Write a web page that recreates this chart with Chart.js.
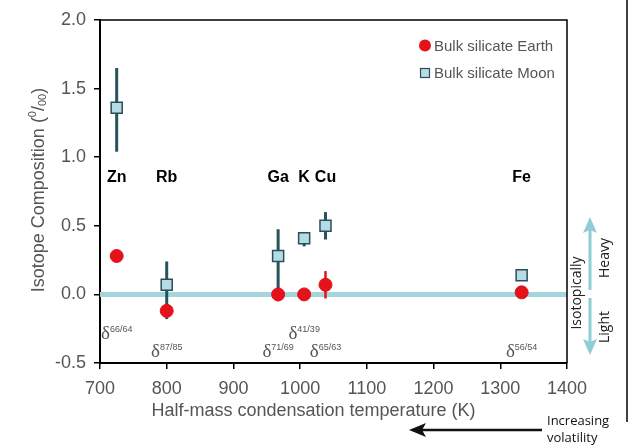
<!DOCTYPE html>
<html><head><meta charset="utf-8">
<script src="https://cdn.jsdelivr.net/npm/chart.js@4"></script>
<style>html,body{margin:0;padding:0;background:#fff}</style>
</head><body>
<canvas id="c" width="630" height="447"></canvas>
<script>
// ---- data ----
const elements = ['Zn', 'Rb', 'Ga', 'K', 'Cu', 'Fe'];
const temperatures = [725, 800, 967, 1006, 1038, 1332];
const earthValues = [0.28, -0.12, 0.00, 0.00, 0.07, 0.015];
const earthErrLow = [null, -0.16, -0.05, null, -0.03, null];
const earthErrHigh = [null, -0.08, 0.05, null, 0.17, null];
const moonValues = [1.36, 0.07, 0.28, 0.41, 0.50, 0.14];
const moonErrLow = [1.04, -0.18, 0.00, 0.35, 0.40, null];
const moonErrHigh = [1.65, 0.24, 0.475, 0.44, 0.60, null];
const isotopeRatios = ['66/64', '87/85', '71/69', '41/39', '65/63', '56/54'];
const isotopeLabelLevels = [-0.28, -0.41, -0.41, -0.28, -0.41, -0.41];
const elementLabelLevel = 0.85;
const xRange = [700, 1400];
const yRange = [-0.5, 2.0];
const seriesNames = ['Bulk silicate Earth', 'Bulk silicate Moon'];

// ---- styles ----
const RED = '#e3121b';
const TEAL = '#24555c';
const MOONFILL = '#b3dce6';
const MOONEDGE = '#2e4d58';
const CYAN = '#a3d5dc';
const GREY = '#555555';
const SANS = '"Liberation Sans", Arial, sans-serif';

const deco = {
  id: 'deco',
  beforeDatasetsDraw(chart) {
    const {ctx, chartArea: a, scales: {x, y}} = chart;
    ctx.save();
    const y0 = y.getPixelForValue(0);
    ctx.strokeStyle = CYAN; ctx.lineWidth = 5;
    ctx.beginPath(); ctx.moveTo(a.left, y0); ctx.lineTo(a.right, y0); ctx.stroke();
    ctx.lineCap = 'butt';
    const bars = (lo, hi, col, w) => {
      ctx.strokeStyle = col; ctx.lineWidth = w;
      temperatures.forEach((t, i) => {
        if (lo[i] == null) return;
        const px = x.getPixelForValue(t);
        ctx.beginPath();
        ctx.moveTo(px, y.getPixelForValue(lo[i]));
        ctx.lineTo(px, y.getPixelForValue(hi[i]));
        ctx.stroke();
      });
    };
    bars(earthErrLow, earthErrHigh, RED, 2.5);
    bars(moonErrLow, moonErrHigh, TEAL, 3);
    ctx.restore();
  },
  afterDraw(chart) {
    const {ctx, chartArea: a, scales: {x, y}} = chart;
    ctx.save();
    ctx.strokeStyle = '#000'; ctx.lineWidth = 1.5;
    ctx.beginPath();
    ctx.moveTo(a.left, a.top); ctx.lineTo(a.right, a.top); ctx.lineTo(a.right, a.bottom);
    ctx.stroke();
    ctx.beginPath(); ctx.moveTo(627, 0); ctx.lineTo(627, 422); ctx.stroke();

    // element labels
    ctx.fillStyle = '#000';
    ctx.font = 'bold 16px ' + SANS;
    ctx.textAlign = 'center'; ctx.textBaseline = 'middle';
    elements.forEach((e, i) => {
      ctx.fillText(e, x.getPixelForValue(temperatures[i]), y.getPixelForValue(elementLabelLevel));
    });

    // isotope delta labels
    const DF = '19px "Liberation Serif", "DejaVu Serif", serif';
    const SF = '9px ' + SANS;
    isotopeRatios.forEach((r, i) => {
      const cx = x.getPixelForValue(temperatures[i]);
      const cy = y.getPixelForValue(isotopeLabelLevels[i]);
      ctx.font = DF; const wd = ctx.measureText('δ').width;
      ctx.font = SF; const ws = ctx.measureText(r).width;
      const left = cx - (wd + ws) / 2;
      ctx.fillStyle = GREY;
      ctx.textAlign = 'left'; ctx.textBaseline = 'alphabetic';
      ctx.font = DF; ctx.fillText('δ', left, cy + 6);
      ctx.font = SF; ctx.fillText(r, left + wd, cy - 1);
    });

    // legend
    ctx.fillStyle = RED;
    ctx.beginPath(); ctx.arc(425, 45.5, 6, 0, Math.PI * 2); ctx.fill();
    ctx.fillStyle = MOONFILL; ctx.strokeStyle = MOONEDGE; ctx.lineWidth = 1.2;
    ctx.fillRect(420.5, 68.5, 9, 9); ctx.strokeRect(420.5, 68.5, 9, 9);
    ctx.fillStyle = GREY; ctx.font = '15px ' + SANS;
    ctx.textAlign = 'left'; ctx.textBaseline = 'middle';
    ctx.fillText(seriesNames[0], 434, 46.5);
    ctx.fillText(seriesNames[1], 434, 74);

    // axis titles
    ctx.font = '18px ' + SANS; ctx.fillStyle = GREY;
    ctx.textAlign = 'center'; ctx.textBaseline = 'middle';
    ctx.fillText('Half-mass condensation temperature (K)', (a.left + a.right) / 2 - 20, 411);

    ctx.save();
    ctx.translate(39, 190); ctx.rotate(-Math.PI / 2);
    const big = '18px ' + SANS, small = '11px ' + SANS;
    const parts = [['Isotope Composition (', big, 0], ['0', small, -6], ['/', big, 0], ['00', small, 4], [')', big, 0]];
    let tot = 0;
    parts.forEach(p => { ctx.font = p[1]; tot += ctx.measureText(p[0]).width; });
    let px = -tot / 2;
    ctx.textAlign = 'left'; ctx.textBaseline = 'middle';
    parts.forEach(p => { ctx.font = p[1]; ctx.fillText(p[0], px, p[2]); px += ctx.measureText(p[0]).width; });
    ctx.restore();

    // right-side isotopically heavy/light arrow
    ctx.strokeStyle = '#8fcdd5'; ctx.fillStyle = '#8fcdd5'; ctx.lineWidth = 3;
    ctx.beginPath(); ctx.moveTo(590, 290); ctx.lineTo(590, 228); ctx.stroke();
    ctx.beginPath(); ctx.moveTo(590, 298); ctx.lineTo(590, 343); ctx.stroke();
    ctx.beginPath(); ctx.moveTo(590, 217); ctx.lineTo(597, 233); ctx.lineTo(590, 230); ctx.lineTo(583, 233); ctx.closePath(); ctx.fill();
    ctx.beginPath(); ctx.moveTo(590, 355); ctx.lineTo(597, 339); ctx.lineTo(590, 342); ctx.lineTo(583, 339); ctx.closePath(); ctx.fill();

    ctx.fillStyle = '#222'; ctx.font = '14px "Open Sans", "Noto Sans", sans-serif';
    ctx.textAlign = 'center'; ctx.textBaseline = 'middle';
    const rot = (t, cx, cy) => { ctx.save(); ctx.translate(cx, cy); ctx.rotate(-Math.PI / 2); ctx.fillText(t, 0, 0); ctx.restore(); };
    rot('Isotopically', 577, 293);
    rot('Heavy', 605, 258);
    rot('Light', 605, 327);

    // increasing volatility arrow
    ctx.strokeStyle = '#111'; ctx.fillStyle = '#111'; ctx.lineWidth = 2.5;
    ctx.beginPath(); ctx.moveTo(542, 430); ctx.lineTo(420, 430); ctx.stroke();
    ctx.beginPath(); ctx.moveTo(409, 430); ctx.lineTo(426, 423); ctx.lineTo(422, 430); ctx.lineTo(426, 437); ctx.closePath(); ctx.fill();
    ctx.font = '13px "Open Sans", "Noto Sans", sans-serif';
    ctx.textAlign = 'left';
    ctx.fillText('Increasing', 547, 421);
    ctx.fillText('volatility', 547, 438);
    ctx.restore();
  }
};

new Chart(document.getElementById('c'), {
  type: 'scatter',
  data: {
    datasets: [
      {
        label: seriesNames[0],
        data: temperatures.map((t, i) => ({x: t, y: earthValues[i]})),
        pointStyle: 'circle', pointRadius: 6.5, pointHoverRadius: 6.5,
        backgroundColor: RED, borderColor: RED, borderWidth: 1
      },
      {
        label: seriesNames[1],
        data: temperatures.map((t, i) => ({x: t, y: moonValues[i]})),
        pointStyle: 'rect', pointRadius: 7.8, pointHoverRadius: 7.8,
        backgroundColor: MOONFILL, borderColor: MOONEDGE, borderWidth: 1.5
      }
    ]
  },
  options: {
    responsive: false, animation: false, devicePixelRatio: 1,
    layout: {padding: {top: 20, right: 63, bottom: 0, left: 0}},
    plugins: {legend: {display: false}, tooltip: {enabled: false}},
    scales: {
      x: {
        type: 'linear', min: xRange[0], max: xRange[1],
        ticks: {stepSize: 100, color: GREY, font: {family: SANS, size: 18}, padding: 9, maxRotation: 0, callback: v => String(v)},
        grid: {display: true, drawOnChartArea: false, drawTicks: true, tickLength: 6, tickColor: '#000', lineWidth: 1.5},
        border: {display: true, color: '#000', width: 2},
        afterFit(s) { s.height = 84; s.paddingLeft = 0; s.paddingRight = 0; }
      },
      y: {
        type: 'linear', min: yRange[0], max: yRange[1],
        ticks: {stepSize: 0.5, color: GREY, font: {family: SANS, size: 18}, padding: 8, callback: v => v.toFixed(1)},
        grid: {display: true, drawOnChartArea: false, drawTicks: true, tickLength: 6, tickColor: '#000', lineWidth: 1.5},
        border: {display: true, color: '#000', width: 2},
        afterFit(s) { s.width = 100; s.paddingTop = 0; s.paddingBottom = 0; }
      }
    }
  },
  plugins: [deco]
});
</script>
</body></html>
